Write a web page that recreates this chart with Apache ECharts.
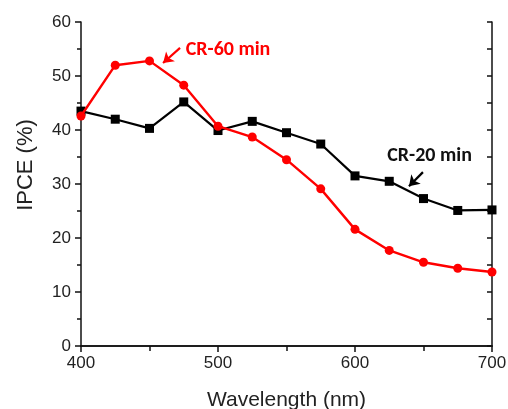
<!DOCTYPE html>
<html><head><meta charset="utf-8">
<script src="https://cdn.jsdelivr.net/npm/echarts@6/dist/echarts.min.js"></script>
<style>html,body{margin:0;padding:0;background:#fff}#c{width:508px;height:409px}</style>
</head><body><div id="c"></div>
<script>
const wavelengths = [400,425,450,475,500,525,550,575,600,625,650,675,700];
const cr20 = [43.5,42.0,40.3,45.2,39.9,41.6,39.5,37.4,31.5,30.5,27.3,25.1,25.2];
const cr60 = [42.6,52.0,52.8,48.3,40.7,38.7,34.5,29.1,21.6,17.7,15.5,14.4,13.7];
const xTicks = [400,500,600,700];
const yTicks = [0,10,20,30,40,50,60];
const labels = ['CR-20 min','CR-60 min'];

const chart = echarts.init(document.getElementById('c'), null, {renderer:'canvas'});
const font = 'Liberation Sans, Arial, sans-serif';
const lblFont = 'Carlito, Calibri, Liberation Sans, sans-serif';
const axisLine = {show:true, lineStyle:{color:'#111', width:1.5}};
chart.setOption({
  animation:false,
  backgroundColor:'#fff',
  grid:{left:81, right:16, top:22, bottom:63, containLabel:false, outerBoundsMode:'none'},
  xAxis:[{
    type:'value', min:400, max:700, interval:100, position:'bottom',
    name:'Wavelength (nm)', nameLocation:'middle', nameGap:44,
    nameTextStyle:{fontFamily:font, fontSize:21, color:'#222'},
    axisLine, axisTick:{show:true, length:6, inside:false, lineStyle:{color:'#111', width:1.5}},
    minorTick:{show:true, splitNumber:2, length:4, lineStyle:{color:'#111', width:1.5}},
    axisLabel:{fontFamily:font, fontSize:17, color:'#222', margin:9},
    splitLine:{show:false}
  },{
    type:'value', min:400, max:700, interval:100, position:'top',
    axisLine, axisTick:{show:true, length:5, inside:true, lineStyle:{color:'#111', width:1.5}},
    minorTick:{show:true, splitNumber:2, length:5, lineStyle:{color:'#111', width:1.5}},
    axisLabel:{show:false}, splitLine:{show:false}
  }],
  yAxis:[{
    type:'value', min:0, max:60, interval:10, position:'left',
    name:'IPCE (%)', nameLocation:'middle', nameGap:44,
    nameTextStyle:{fontFamily:font, fontSize:22, color:'#222', padding:[0,0,0,38]},
    axisLine, axisTick:{show:true, length:6, inside:false, lineStyle:{color:'#111', width:1.5}},
    minorTick:{show:true, splitNumber:2, length:4, lineStyle:{color:'#111', width:1.5}},
    axisLabel:{fontFamily:font, fontSize:17, color:'#222', margin:10},
    splitLine:{show:false}
  },{
    type:'value', min:0, max:60, interval:10, position:'right',
    axisLine, axisTick:{show:true, length:5, inside:true, lineStyle:{color:'#111', width:1.5}},
    minorTick:{show:true, splitNumber:2, length:5, lineStyle:{color:'#111', width:1.5}},
    axisLabel:{show:false}, splitLine:{show:false}
  }],
  series:[{
    name:labels[0], type:'line',
    data:wavelengths.map((w,i)=>[w,cr20[i]]),
    symbol:'rect', symbolSize:9,
    lineStyle:{color:'#000', width:2.2}, itemStyle:{color:'#000'},
    z:2,
    markLine:{silent:true, symbol:['none','arrow'], symbolSize:10,
      lineStyle:{color:'#000', width:2.2, type:'solid'}, label:{show:false},
      data:[[{coord:[649.6,32.2]},{coord:[639.4,29.6]}]]},
    markPoint:{silent:true, symbol:'rect', symbolSize:1, itemStyle:{color:'transparent'},
      label:{show:true, formatter:labels[0], fontFamily:lblFont, fontWeight:'bold', fontSize:20, color:'#111'},
      data:[{coord:[654.4,35.1]}]}
  },{
    name:labels[1], type:'line',
    data:wavelengths.map((w,i)=>[w,cr60[i]]),
    symbol:'circle', symbolSize:9,
    lineStyle:{color:'#f00', width:2.4}, itemStyle:{color:'#f00'},
    z:3,
    markLine:{silent:true, symbol:['none','arrow'], symbolSize:10,
      lineStyle:{color:'#f00', width:2.2, type:'solid'}, label:{show:false},
      data:[[{coord:[472.3,55.2]},{coord:[459.9,52.4]}]]},
    markPoint:{silent:true, symbol:'rect', symbolSize:1, itemStyle:{color:'transparent'},
      label:{show:true, formatter:labels[1], fontFamily:lblFont, fontWeight:'bold', fontSize:20, color:'#f00'},
      data:[{coord:[507.3,54.9]}]}
  }]
});
</script></body></html>
